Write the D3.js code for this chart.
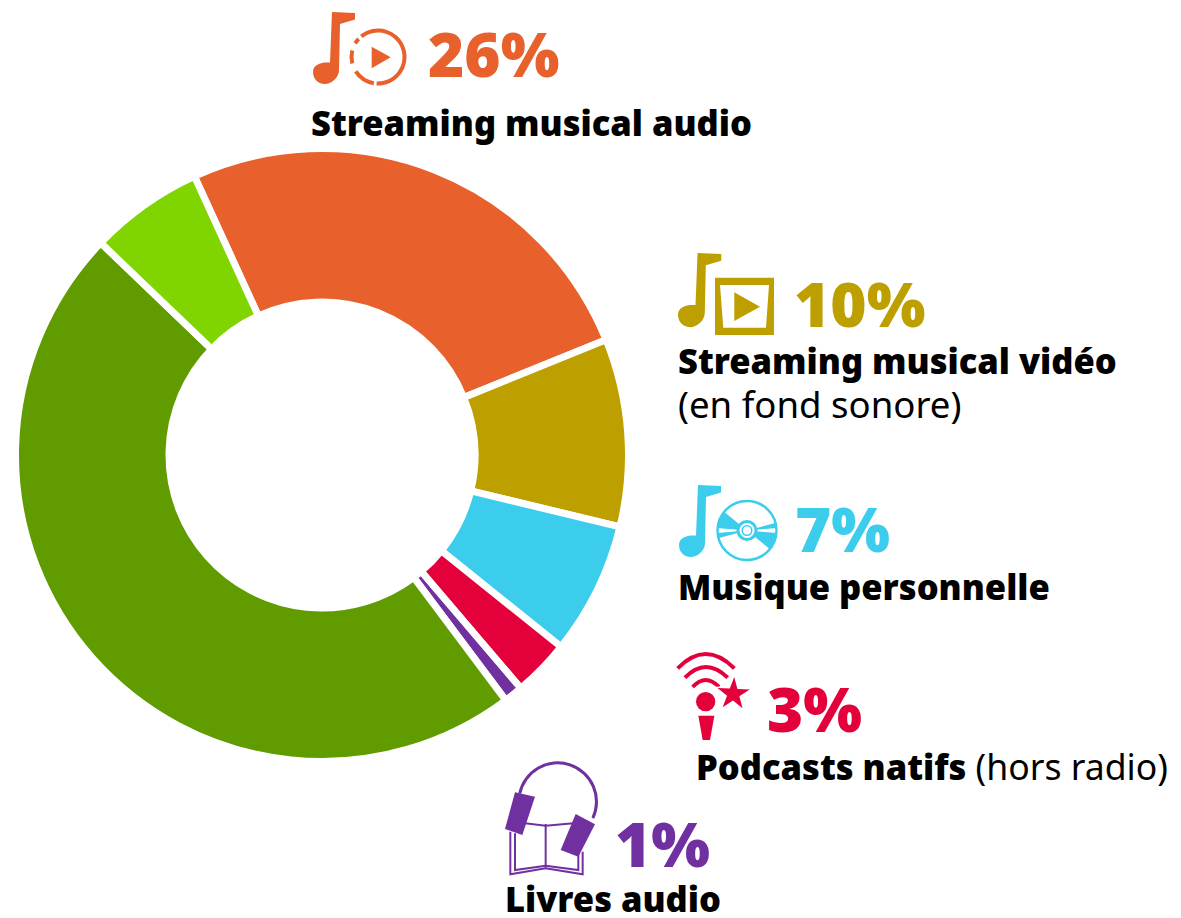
<!DOCTYPE html>
<html lang="fr">
<head>
<meta charset="utf-8">
<title>Ecoute audio</title>
<script src="https://cdn.jsdelivr.net/npm/d3@7"></script>
<style>
  body { margin: 0; background: #fff; }
  svg { display: block; }
  text { font-family: "Noto Sans", sans-serif; }
  .pct { font-size: 62px; font-weight: 900; }
  .name { font-size: 34.5px; font-weight: 900; fill: #000; }
  .plain { font-size: 36.6px; font-weight: 400; }
  .name .plain { font-size: 35.6px; }
</style>
</head>
<body>
<div id="chart"></div>
<script>
const categories = ['Streaming musical audio', 'Streaming musical vidéo', 'Musique personnelle',
  'Podcasts natifs', 'Livres audio', 'Autres A', 'Autres B'];
const shares = [25.7, 9.9, 7, 3, 1, 47.4, 6];
const sliceColors = ['#e8612c', '#bda000', '#3dcdec', '#e4003a', '#7030a0', '#609c00', '#80d400'];

const w = 1181;
const h = 918;
const cx = 322;
const cy = 455;

const svg = d3.select('#chart').append('svg').attr('width', w).attr('height', h);

const color = d3.scaleOrdinal().domain(categories).range(sliceColors);
const deg = (a) => a * Math.PI / 180;

const pie = d3.pie().sort(null).value((d, i) => shares[i])
  .startAngle(deg(-24.6)).endAngle(deg(335.4));
const arc = d3.arc().innerRadius(153).outerRadius(306.5);

svg.append('g')
  .attr('transform', `translate(${cx},${cy})`)
  .selectAll('path')
  .data(pie(categories))
  .enter()
  .append('path')
  .attr('d', arc)
  .attr('fill', (d) => color(d.data))
  .attr('stroke', '#fff')
  .attr('stroke-width', 7);

// labels, x/y are baselines measured on the picture
const addPct = (i, x, y) => {
  svg.append('text').attr('class', 'pct').attr('x', x).attr('y', y)
    .attr('fill', color(categories[i]))
    .text(Math.round(shares[i]) + '%');
};
const addName = (i, x, y, extra) => {
  const t = svg.append('text').attr('class', 'name').attr('x', x).attr('y', y).text(categories[i]);
  if (extra) t.append('tspan').attr('class', 'plain').text(' ' + extra);
};

addPct(0, 428, 77);
addName(0, 311, 136);
addPct(1, 794, 327);
addName(1, 678, 374);
svg.append('text').attr('class', 'plain').attr('x', 678).attr('y', 418).text('(en fond sonore)');
addPct(2, 795, 552);
addName(2, 678, 600);
addPct(3, 767, 732);
addName(3, 696, 780, '(hors radio)');
addPct(4, 615, 867);
addName(4, 505, 912);

// icons
const notePath = 'M19,0 L42,1 L42,7.5 L27,12 L26,58 C26,66 18,72 12,72 C4,72 0,66 0,60 C0,53 7,50.5 14,50.5 L17,50.5 Z';
const addNote = (i, x, y, s) => {
  svg.append('path').attr('d', notePath)
    .attr('transform', `translate(${x},${y}) scale(${s})`)
    .attr('fill', color(categories[i]));
};
addNote(0, 313, 12, 1);
addNote(1, 678, 253, 1.03);
addNote(2, 679, 485, 1);

// orange play circle, broken ring
const orange = svg.append('g').attr('transform', 'translate(378,57)').attr('fill', color(categories[0]));
const ring = d3.arc().innerRadius(24.5).outerRadius(28.5);
[[-39, 183], [189, 237], [256, 284], [301, 313]].forEach((a) => {
  orange.append('path').attr('d', ring({ startAngle: deg(a[0]), endAngle: deg(a[1]) }));
});
orange.append('path').attr('d', 'M-6.3,-10.3 L12.7,0.3 L-6.3,11.3 Z');

// gold video frame
svg.append('path').attr('fill', color(categories[1])).attr('fill-rule', 'evenodd')
  .attr('d', 'M715,277.7 H774 V335 H715 Z M720,285 L769,285 L766,327.7 L723.3,327.7 Z M734.3,292.3 L760,306.7 L734.3,321 Z');

// blue cd
const blue = color(categories[2]);
const cd = svg.append('g').attr('transform', 'translate(747,530.5)').attr('fill', blue);
cd.append('circle').attr('r', 29.5).attr('fill', 'none').attr('stroke', blue).attr('stroke-width', 2.5);
const wedge = d3.arc().innerRadius(0).outerRadius(30);
[[-85, -51], [-95, -105], [75, 85], [95, 129]].forEach((a) => {
  cd.append('path').attr('d', wedge({ startAngle: deg(a[0]), endAngle: deg(a[1]) }));
});
[[10.5, blue], [7.5, '#fff'], [5.5, blue], [4, '#fff']].forEach((c) => {
  cd.append('circle').attr('r', c[0]).attr('fill', c[1]);
});

// red podcast mic, drawn in zoom units (3x)
const red = color(categories[3]);
const mic = svg.append('g').attr('transform', 'translate(665,645) scale(0.3333)').attr('fill', red);
['M38,70 Q122,-16 208,70', 'M60,98 Q122,34 188,98', 'M83,126 Q122,84 162,126'].forEach((p) => {
  mic.append('path').attr('d', p).attr('fill', 'none').attr('stroke', red).attr('stroke-width', 12);
});
mic.append('circle').attr('cx', 122).attr('cy', 170).attr('r', 29);
mic.append('path').attr('d', 'M100,212 L148,212 L135,285 L113,285 Z');
mic.append('path').attr('d', d3.symbol().type(d3.symbolStar).size(2900)())
  .attr('transform', 'translate(205,147) rotate(3)')
  .attr('stroke', '#fff').attr('stroke-width', 8).attr('paint-order', 'stroke');

// purple book and headphones, zoom units too
const purple = color(categories[4]);
const book = svg.append('g').attr('transform', 'translate(495,755) scale(0.3333)');
const lines = book.append('g').attr('fill', 'none').attr('stroke', purple).attr('stroke-width', 6);
['M90,205 L152,212 L235,205', 'M152,207 V338',
  'M46,230 V358 L152,340 L263,358 V290', 'M60,235 V345 L152,332 L250,345 V295'].forEach((p) => {
  lines.append('path').attr('d', p);
});
book.append('path').attr('fill', purple)
  .attr('d', d3.arc().innerRadius(112).outerRadius(121)({ startAngle: deg(-78), endAngle: deg(115) }))
  .attr('transform', 'translate(188,140)');
book.append('path').attr('fill', purple).attr('d', 'M60,112 L120,125 L82,240 L30,222 Z');
book.append('path').attr('fill', purple).attr('d', 'M242,177 L300,208 L250,305 L197,285 Z');
</script>
</body>
</html>
